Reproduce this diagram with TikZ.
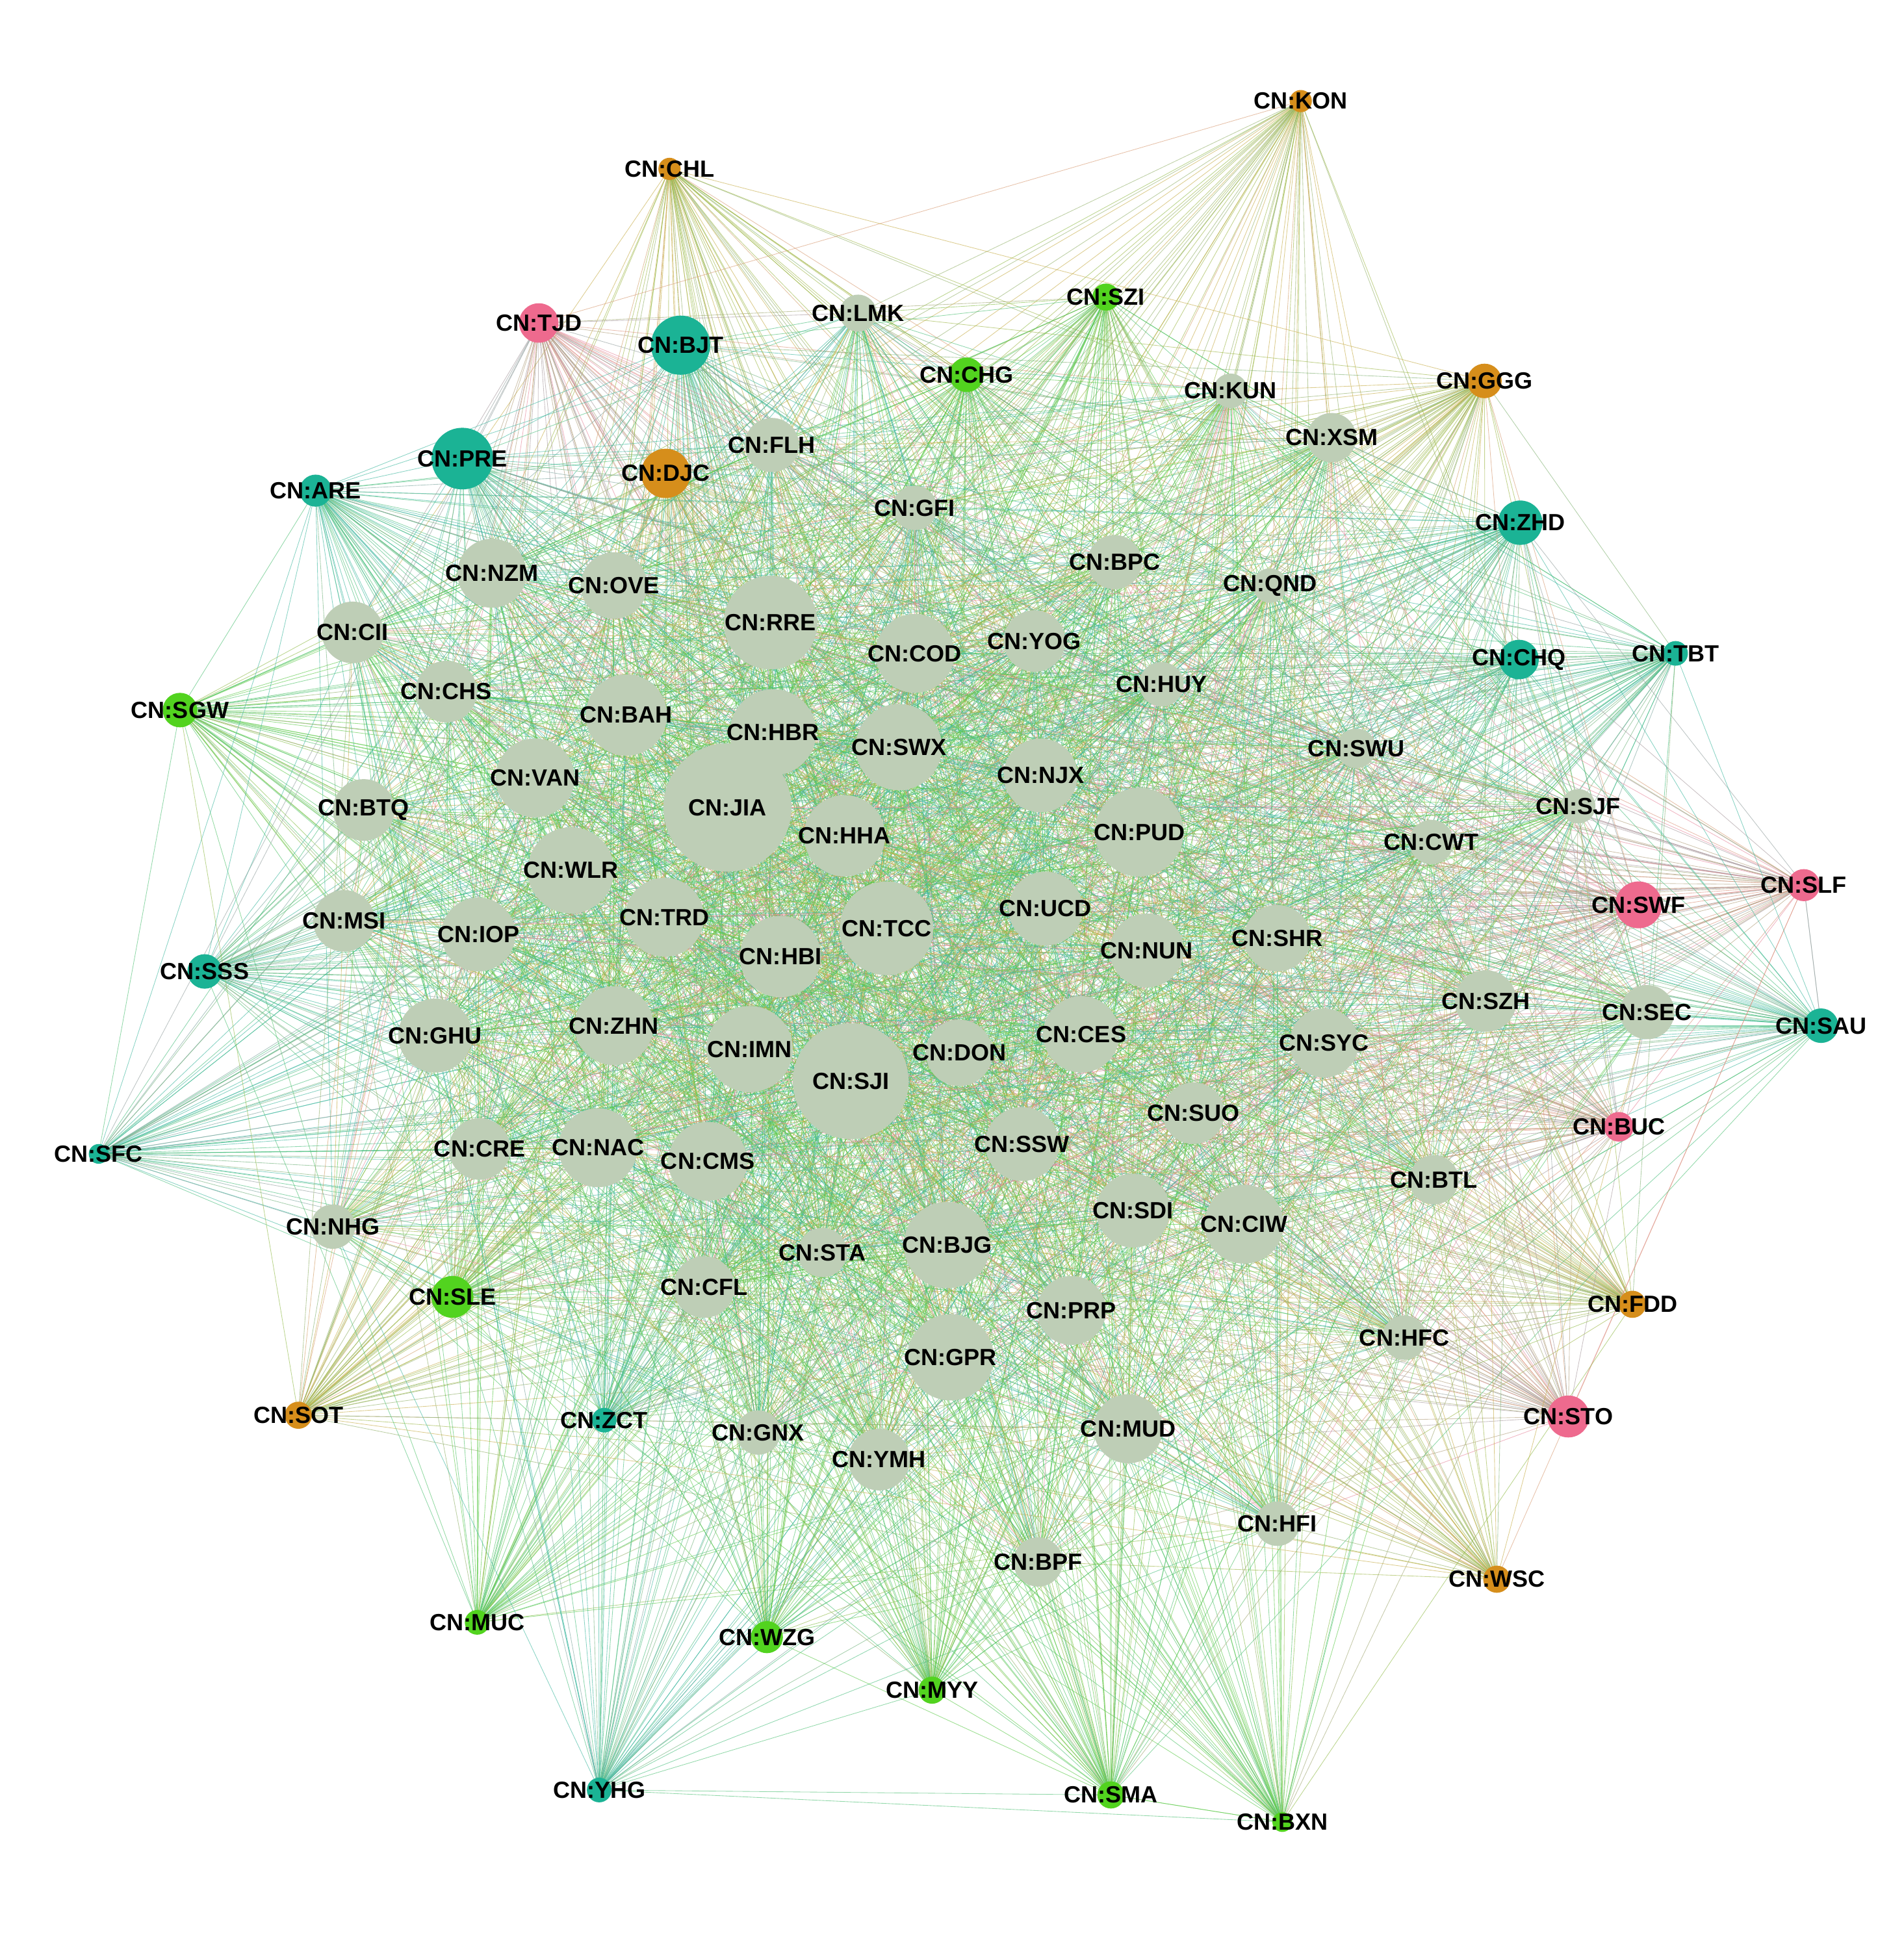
\documentclass[tikz,border=0pt]{standalone}
\usepackage{fontspec}
\setmainfont{Liberation Sans}
\definecolor{tea}{HTML}{1BB395}
\definecolor{grn}{HTML}{52D31F}
\definecolor{org}{HTML}{D68E1B}
\definecolor{pnk}{HTML}{EE6A8E}
\definecolor{gry}{HTML}{BECEB6}
\definecolor{eg}{HTML}{5DCB4A}
\definecolor{et}{HTML}{3FB8A0}
\definecolor{eo}{HTML}{C8AE4A}
\definecolor{ep}{HTML}{E8889E}
\pgfdeclarelayer{bg}
\pgfdeclarelayer{edges}
\pgfsetlayers{bg,edges,main}
\tikzset{
  nd/.style={circle, inner sep=0pt, outer sep=0pt, draw=none},
  lbl/.style={font=\fontsize{19}{19}\selectfont\bfseries, text=black, inner sep=0pt},
  edge/.style={line width=0.45pt, opacity=0.62},
}
\newcommand\mknode[5]{\node[nd, fill=#5, minimum size=#4*2pt, label={[lbl]center:{CN:#1}}] (#1) at (#2,#3) {};}
\pgfmathdeclarerandomlist{ecols}{{eg}{eg}{eg}{eg}{et}{et}{et}{eo}{eo}{ep}}
\def\hubs{KON/eo,CHL/eo,TJD/ep,BJT/et,SZI/eg,CHG/eg,GGG/eo,PRE/et,DJC/eo,ARE/et,ZHD/et,CHQ/et,TBT/et,SGW/eg,SLF/ep,SWF/ep,SSS/et,SAU/et,BUC/ep,SFC/et,FDD/eo,SLE/eg,SOT/eo,ZCT/et,STO/ep,WSC/eo,MUC/eg,WZG/eg,MYY/eg,YHG/et,SMA/eg,BXN/eg}
\def\grays{LMK,FLH,KUN,XSM,GFI,BPC,QND,NZM,OVE,CII,RRE,COD,YOG,HUY,CHS,BAH,HBR,SWX,SWU,VAN,NJX,SJF,BTQ,JIA,HHA,PUD,CWT,WLR,MSI,IOP,TRD,TCC,UCD,HBI,NUN,SHR,SZH,SEC,GHU,ZHN,IMN,SJI,DON,CES,SYC,SUO,CRE,NAC,CMS,SSW,BTL,NHG,SDI,CIW,BJG,STA,CFL,PRP,GPR,HFC,GNX,MUD,YMH,HFI,BPF}
\begin{document}
\begin{tikzpicture}[x=1pt,y=-1pt]
\useasboundingbox (0,0) rectangle (1544,1568);
\begin{pgfonlayer}{bg}
\fill[white] (0,0) rectangle (1544,1568);
\end{pgfonlayer}
% hubs
\foreach \n/\x/\y/\r/\c in {
KON/1055/82/9/org, CHL/543/137/9/org, TJD/437/262/16/pnk, BJT/552/280/24/tea,
SZI/897/241/11/grn, CHG/784/304/14/grn, GGG/1204/309/14/org, PRE/375/372/25/tea,
DJC/540/384/20/org, ARE/256/398/13/tea, ZHD/1233/424/18/tea, CHQ/1232/535/16/tea,
TBT/1359/530/10/tea, SGW/146/576/14/grn, SLF/1463/718/13/pnk, SWF/1329/734/19/pnk,
SSS/166/788/14/tea, SAU/1477/832/14/tea, BUC/1313/914/12/pnk, SFC/80/936/8/tea,
FDD/1324/1058/11/org, SLE/367/1052/17/grn, SOT/242/1148/11/org, ZCT/490/1152/10/tea,
STO/1272/1149/17/pnk, WSC/1214/1281/11/org, MUC/387/1316/10/grn, WZG/622/1328/13/grn,
MYY/756/1371/11/grn, YHG/486/1452/10/tea, SMA/901/1456/11/grn, BXN/1040/1478/8/grn}
{\mknode{\n}{\x}{\y}{\r}{\c}}
% gray nodes
\foreach \n/\x/\y/\r in {
LMK/696/254/15, FLH/626/361/22, KUN/998/317/14, XSM/1080/355/20, GFI/742/412/18,
BPC/904/456/22, QND/1030/475/14, NZM/399/465/28, OVE/498/475/27, CII/286/513/25,
RRE/625/505/38, COD/742/530/32, YOG/839/520/25, HUY/942/555/18, CHS/362/561/25,
BAH/508/580/33, HBR/627/594/35, SWX/729/606/35, SWU/1100/607/16, VAN/434/631/32,
NJX/844/629/30, SJF/1280/654/14, BTQ/295/657/25, JIA/590/655/52, HHA/685/678/33,
PUD/924/675/36, CWT/1161/683/18, WLR/463/706/35, MSI/279/747/25, IOP/388/758/30,
TRD/539/744/32, TCC/719/753/38, UCD/848/737/30, HBI/633/776/33, NUN/930/771/30,
SHR/1036/761/27, SZH/1205/812/25, SEC/1336/821/22, GHU/353/840/30, ZHN/498/832/32,
IMN/608/851/35, SJI/690/877/47, DON/778/854/27, CES/877/839/31, SYC/1074/846/28,
SUO/968/903/25, CRE/389/932/25, NAC/485/931/32, CMS/574/942/32, SSW/829/928/30,
BTL/1163/957/20, NHG/270/995/18, SDI/919/982/30, CIW/1009/993/32, BJG/768/1010/35,
STA/667/1016/20, CFL/571/1044/25, PRP/869/1063/28, GPR/771/1101/35, HFC/1139/1085/18,
GNX/615/1162/18, MUD/915/1159/28, YMH/713/1184/25, HFI/1036/1236/18, BPF/842/1267/20}
{\mknode{\n}{\x}{\y}{\r}{gry}}
\begin{pgfonlayer}{edges}
\pgfmathsetseed{4242}
% hub to gray
\foreach \h/\hc in \hubs {
  \foreach \g in \grays {
    \pgfmathrandominteger{\rr}{1}{100}
    \ifnum\rr<88
      \pgfmathrandomitem{\ec}{ecols}
      \draw[edge, draw=\hc!62!\ec] (\h.center) -- (\g.center);
    \fi
  }
}
% hub to hub
\foreach \a/\ac [count=\i] in \hubs {
  \foreach \b/\bc [count=\j] in \hubs {
    \ifnum\j>\i
      \pgfmathrandominteger{\rr}{1}{100}
      \ifnum\rr<30
        \draw[edge, draw=\ac!50!\bc] (\a.center) -- (\b.center);
      \fi
    \fi
  }
}
\draw[edge, draw=et!50!eg] (YHG.center) -- (SMA.center);
\draw[edge, draw=et!50!eg] (YHG.center) -- (BXN.center);
\draw[edge, draw=eg] (SMA.center) -- (BXN.center);
\draw[edge, draw=ep!50!et] (SLF.center) -- (SAU.center);
\draw[edge, draw=et] (TBT.center) -- (SAU.center);
% gray to gray
\foreach \a [count=\i] in \grays {
  \foreach \b [count=\j] in \grays {
    \ifnum\j>\i
      \pgfmathrandominteger{\rr}{1}{100}
      \ifnum\rr<60
        \pgfmathrandomitem{\ec}{ecols}
        \draw[edge, draw=\ec] (\a.center) -- (\b.center);
      \fi
    \fi
  }
}
\end{pgfonlayer}
\end{tikzpicture}
\end{document}
